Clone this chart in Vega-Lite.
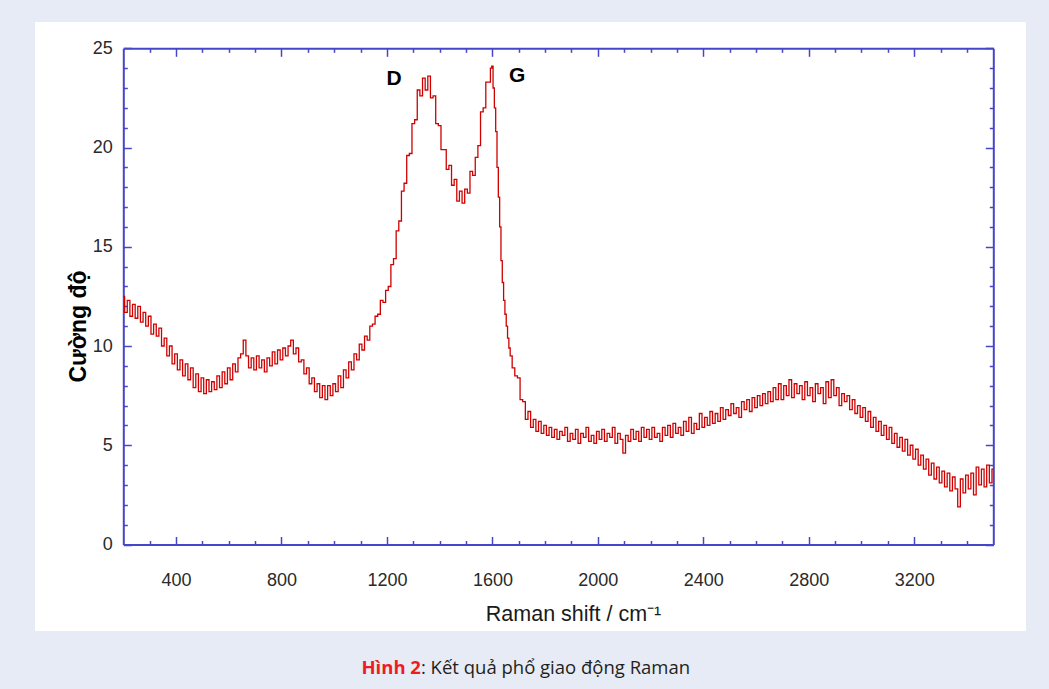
{
  "$schema": "https://vega.github.io/schema/vega-lite/v6.json",
  "width": 991,
  "height": 609,
  "autosize": "none",
  "padding": {"left": 35, "top": 22, "right": 23, "bottom": 58},
  "background": "#e7ebf5",
  "view": {"fill": "#ffffff", "stroke": null},
  "config": {
    "axis": {"grid": false, "labelFont": "Liberation Sans", "titleFont": "Liberation Sans", "domainColor": "#4646c8", "tickColor": "#4646c8", "labelColor": "#2a2a2a", "titleColor": "#1a1a1a", "labelOverlap": false, "labelFlush": false}
  },
  "datasets": {
    "spectrum": [
      {"shift":200,"intensity":12.5},{"shift":210,"intensity":11.7},{"shift":220,"intensity":12.3},{"shift":230,"intensity":11.5},{"shift":240,"intensity":12.1},
      {"shift":250,"intensity":11.4},{"shift":260,"intensity":12.0},{"shift":270,"intensity":11.2},{"shift":280,"intensity":11.7},{"shift":290,"intensity":11.0},
      {"shift":300,"intensity":11.5},{"shift":310,"intensity":10.6},{"shift":320,"intensity":11.1},{"shift":330,"intensity":10.5},{"shift":340,"intensity":10.9},
      {"shift":350,"intensity":10.0},{"shift":360,"intensity":10.4},{"shift":370,"intensity":9.5},{"shift":380,"intensity":10.0},{"shift":390,"intensity":9.1},
      {"shift":400,"intensity":9.6},{"shift":410,"intensity":8.8},{"shift":420,"intensity":9.3},{"shift":430,"intensity":8.5},{"shift":440,"intensity":9.1},
      {"shift":450,"intensity":8.3},{"shift":460,"intensity":8.9},{"shift":470,"intensity":7.9},{"shift":480,"intensity":8.6},{"shift":490,"intensity":7.7},
      {"shift":500,"intensity":8.4},{"shift":510,"intensity":7.6},{"shift":520,"intensity":8.3},{"shift":530,"intensity":7.7},{"shift":540,"intensity":8.2},
      {"shift":550,"intensity":7.8},{"shift":560,"intensity":8.5},{"shift":570,"intensity":7.9},{"shift":580,"intensity":8.7},{"shift":590,"intensity":8.1},
      {"shift":600,"intensity":8.9},{"shift":610,"intensity":8.3},{"shift":620,"intensity":9.1},{"shift":630,"intensity":8.7},{"shift":640,"intensity":9.4},
      {"shift":650,"intensity":9.6},{"shift":660,"intensity":10.3},{"shift":670,"intensity":9.5},{"shift":680,"intensity":8.9},{"shift":690,"intensity":9.4},
      {"shift":700,"intensity":8.8},{"shift":710,"intensity":9.5},{"shift":720,"intensity":8.9},{"shift":730,"intensity":9.3},{"shift":740,"intensity":8.7},
      {"shift":750,"intensity":9.4},{"shift":760,"intensity":9.0},{"shift":770,"intensity":9.7},{"shift":780,"intensity":9.1},{"shift":790,"intensity":9.8},
      {"shift":800,"intensity":9.3},{"shift":810,"intensity":9.9},{"shift":820,"intensity":9.5},{"shift":830,"intensity":10.0},{"shift":840,"intensity":10.3},
      {"shift":850,"intensity":9.6},{"shift":860,"intensity":9.9},{"shift":870,"intensity":9.2},{"shift":880,"intensity":9.3},{"shift":890,"intensity":8.6},
      {"shift":900,"intensity":8.9},{"shift":910,"intensity":8.1},{"shift":920,"intensity":8.4},{"shift":930,"intensity":7.7},{"shift":940,"intensity":8.1},
      {"shift":950,"intensity":7.4},{"shift":960,"intensity":8.0},{"shift":970,"intensity":7.3},{"shift":980,"intensity":8.0},{"shift":990,"intensity":7.5},
      {"shift":1000,"intensity":8.1},{"shift":1010,"intensity":7.7},{"shift":1020,"intensity":8.5},{"shift":1030,"intensity":7.9},{"shift":1040,"intensity":8.8},
      {"shift":1050,"intensity":8.4},{"shift":1060,"intensity":9.2},{"shift":1070,"intensity":8.8},{"shift":1080,"intensity":9.6},{"shift":1090,"intensity":9.3},
      {"shift":1100,"intensity":10.1},{"shift":1110,"intensity":9.8},{"shift":1120,"intensity":10.5},{"shift":1130,"intensity":10.3},{"shift":1140,"intensity":11.0},
      {"shift":1150,"intensity":11.1},{"shift":1160,"intensity":11.5},{"shift":1170,"intensity":11.6},{"shift":1180,"intensity":12.3},{"shift":1190,"intensity":12.2},
      {"shift":1200,"intensity":12.8},{"shift":1210,"intensity":13.0},{"shift":1220,"intensity":14.1},{"shift":1230,"intensity":14.4},{"shift":1240,"intensity":15.8},
      {"shift":1250,"intensity":16.3},{"shift":1260,"intensity":17.8},{"shift":1270,"intensity":18.2},{"shift":1280,"intensity":19.6},{"shift":1290,"intensity":19.7},
      {"shift":1300,"intensity":21.2},{"shift":1310,"intensity":21.4},{"shift":1320,"intensity":22.9},{"shift":1330,"intensity":22.6},{"shift":1340,"intensity":23.5},
      {"shift":1350,"intensity":22.9},{"shift":1360,"intensity":23.6},{"shift":1370,"intensity":22.5},{"shift":1380,"intensity":22.6},{"shift":1390,"intensity":21.2},
      {"shift":1400,"intensity":21.1},{"shift":1410,"intensity":19.9},{"shift":1420,"intensity":19.9},{"shift":1430,"intensity":18.9},{"shift":1440,"intensity":19.1},
      {"shift":1450,"intensity":18.1},{"shift":1460,"intensity":18.4},{"shift":1470,"intensity":17.3},{"shift":1480,"intensity":17.8},{"shift":1490,"intensity":17.2},
      {"shift":1500,"intensity":17.9},{"shift":1510,"intensity":17.7},{"shift":1520,"intensity":18.8},{"shift":1530,"intensity":18.6},{"shift":1540,"intensity":19.5},
      {"shift":1550,"intensity":20.1},{"shift":1560,"intensity":21.8},{"shift":1570,"intensity":22.0},{"shift":1580,"intensity":23.3},{"shift":1590,"intensity":23.3},
      {"shift":1595,"intensity":24.0},{"shift":1600,"intensity":24.1},{"shift":1605,"intensity":23.0},{"shift":1610,"intensity":22.0},{"shift":1615,"intensity":20.8},
      {"shift":1620,"intensity":19.0},{"shift":1625,"intensity":17.5},{"shift":1630,"intensity":16.0},{"shift":1635,"intensity":14.3},{"shift":1640,"intensity":13.2},
      {"shift":1645,"intensity":12.3},{"shift":1650,"intensity":11.6},{"shift":1655,"intensity":11.0},{"shift":1660,"intensity":10.4},{"shift":1665,"intensity":9.9},
      {"shift":1670,"intensity":9.5},{"shift":1680,"intensity":8.9},{"shift":1690,"intensity":8.5},{"shift":1700,"intensity":8.4},{"shift":1710,"intensity":7.3},
      {"shift":1720,"intensity":7.2},{"shift":1730,"intensity":6.3},{"shift":1740,"intensity":6.7},{"shift":1750,"intensity":5.9},{"shift":1760,"intensity":6.3},
      {"shift":1770,"intensity":5.7},{"shift":1780,"intensity":6.2},{"shift":1790,"intensity":5.6},{"shift":1800,"intensity":6.0},{"shift":1810,"intensity":5.5},
      {"shift":1820,"intensity":5.9},{"shift":1830,"intensity":5.4},{"shift":1840,"intensity":5.8},{"shift":1850,"intensity":5.3},{"shift":1860,"intensity":5.7},
      {"shift":1870,"intensity":5.5},{"shift":1880,"intensity":5.9},{"shift":1890,"intensity":5.2},{"shift":1900,"intensity":5.6},{"shift":1910,"intensity":5.3},
      {"shift":1920,"intensity":5.8},{"shift":1930,"intensity":5.1},{"shift":1940,"intensity":5.6},{"shift":1950,"intensity":5.4},{"shift":1960,"intensity":5.9},
      {"shift":1970,"intensity":5.2},{"shift":1980,"intensity":5.5},{"shift":1990,"intensity":5.1},{"shift":2000,"intensity":5.7},{"shift":2010,"intensity":5.3},
      {"shift":2020,"intensity":5.8},{"shift":2030,"intensity":5.2},{"shift":2040,"intensity":5.6},{"shift":2050,"intensity":5.4},{"shift":2060,"intensity":5.9},
      {"shift":2070,"intensity":5.1},{"shift":2080,"intensity":5.6},{"shift":2090,"intensity":5.3},{"shift":2100,"intensity":4.6},{"shift":2110,"intensity":5.5},
      {"shift":2120,"intensity":5.2},{"shift":2130,"intensity":5.8},{"shift":2140,"intensity":5.3},{"shift":2150,"intensity":5.7},{"shift":2160,"intensity":5.2},
      {"shift":2170,"intensity":5.9},{"shift":2180,"intensity":5.4},{"shift":2190,"intensity":5.8},{"shift":2200,"intensity":5.3},{"shift":2210,"intensity":5.9},
      {"shift":2220,"intensity":5.4},{"shift":2230,"intensity":5.6},{"shift":2240,"intensity":5.2},{"shift":2250,"intensity":5.9},{"shift":2260,"intensity":5.5},
      {"shift":2270,"intensity":6.0},{"shift":2280,"intensity":5.4},{"shift":2290,"intensity":6.1},{"shift":2300,"intensity":5.6},{"shift":2310,"intensity":5.9},
      {"shift":2320,"intensity":5.5},{"shift":2330,"intensity":6.2},{"shift":2340,"intensity":5.7},{"shift":2350,"intensity":6.4},{"shift":2360,"intensity":5.6},
      {"shift":2370,"intensity":6.1},{"shift":2380,"intensity":5.8},{"shift":2390,"intensity":6.6},{"shift":2400,"intensity":5.9},{"shift":2410,"intensity":6.4},
      {"shift":2420,"intensity":6.0},{"shift":2430,"intensity":6.7},{"shift":2440,"intensity":6.1},{"shift":2450,"intensity":6.6},{"shift":2460,"intensity":6.2},
      {"shift":2470,"intensity":6.9},{"shift":2480,"intensity":6.3},{"shift":2490,"intensity":6.8},{"shift":2500,"intensity":6.5},{"shift":2510,"intensity":7.1},
      {"shift":2520,"intensity":6.6},{"shift":2530,"intensity":6.9},{"shift":2540,"intensity":6.4},{"shift":2550,"intensity":7.2},{"shift":2560,"intensity":6.8},
      {"shift":2570,"intensity":7.3},{"shift":2580,"intensity":6.7},{"shift":2590,"intensity":7.4},{"shift":2600,"intensity":6.9},{"shift":2610,"intensity":7.5},
      {"shift":2620,"intensity":7.0},{"shift":2630,"intensity":7.6},{"shift":2640,"intensity":7.1},{"shift":2650,"intensity":7.7},{"shift":2660,"intensity":7.2},
      {"shift":2670,"intensity":7.9},{"shift":2680,"intensity":7.3},{"shift":2690,"intensity":8.1},{"shift":2700,"intensity":7.3},{"shift":2710,"intensity":8.0},
      {"shift":2720,"intensity":7.5},{"shift":2730,"intensity":8.3},{"shift":2740,"intensity":7.4},{"shift":2750,"intensity":8.1},{"shift":2760,"intensity":7.6},
      {"shift":2770,"intensity":8.0},{"shift":2780,"intensity":7.3},{"shift":2790,"intensity":8.2},{"shift":2800,"intensity":7.5},{"shift":2810,"intensity":7.9},
      {"shift":2820,"intensity":7.2},{"shift":2830,"intensity":8.1},{"shift":2840,"intensity":7.6},{"shift":2850,"intensity":7.9},{"shift":2860,"intensity":7.1},
      {"shift":2870,"intensity":8.2},{"shift":2880,"intensity":7.4},{"shift":2890,"intensity":8.3},{"shift":2900,"intensity":7.5},{"shift":2910,"intensity":7.9},
      {"shift":2920,"intensity":7.0},{"shift":2930,"intensity":7.6},{"shift":2940,"intensity":7.2},{"shift":2950,"intensity":7.5},{"shift":2960,"intensity":6.8},
      {"shift":2970,"intensity":7.3},{"shift":2980,"intensity":6.6},{"shift":2990,"intensity":7.0},{"shift":3000,"intensity":6.4},{"shift":3010,"intensity":6.9},
      {"shift":3020,"intensity":6.2},{"shift":3030,"intensity":6.7},{"shift":3040,"intensity":5.9},{"shift":3050,"intensity":6.4},{"shift":3060,"intensity":5.7},
      {"shift":3070,"intensity":6.2},{"shift":3080,"intensity":5.5},{"shift":3090,"intensity":6.0},{"shift":3100,"intensity":5.3},{"shift":3110,"intensity":5.9},
      {"shift":3120,"intensity":5.1},{"shift":3130,"intensity":5.6},{"shift":3140,"intensity":4.9},{"shift":3150,"intensity":5.4},{"shift":3160,"intensity":4.7},
      {"shift":3170,"intensity":5.3},{"shift":3180,"intensity":4.5},{"shift":3190,"intensity":5.0},{"shift":3200,"intensity":4.3},{"shift":3210,"intensity":4.8},
      {"shift":3220,"intensity":4.0},{"shift":3230,"intensity":4.5},{"shift":3240,"intensity":3.8},{"shift":3250,"intensity":4.3},{"shift":3260,"intensity":3.5},
      {"shift":3270,"intensity":4.1},{"shift":3280,"intensity":3.3},{"shift":3290,"intensity":3.9},{"shift":3300,"intensity":3.1},{"shift":3310,"intensity":3.7},
      {"shift":3320,"intensity":2.9},{"shift":3330,"intensity":3.6},{"shift":3340,"intensity":2.7},{"shift":3350,"intensity":3.4},{"shift":3360,"intensity":2.8},
      {"shift":3370,"intensity":1.9},{"shift":3380,"intensity":3.3},{"shift":3390,"intensity":2.6},{"shift":3400,"intensity":3.5},{"shift":3410,"intensity":2.8},
      {"shift":3420,"intensity":3.6},{"shift":3430,"intensity":2.5},{"shift":3440,"intensity":3.9},{"shift":3450,"intensity":3.0},{"shift":3460,"intensity":3.8},
      {"shift":3470,"intensity":2.9},{"shift":3480,"intensity":4.0},{"shift":3490,"intensity":3.1},{"shift":3500,"intensity":3.8}
    ],
    "peaks": [
      {"label": "D", "shift": 1227, "intensity": 23.15},
      {"label": "G", "shift": 1694, "intensity": 23.3}
    ],
    "caption1": [{"label": "Hình 2", "shift": 1329, "intensity": -6.52}],
    "caption2": [{"label": ": Kết quả phổ giao động Raman", "shift": 1329, "intensity": -6.52}]
  },
  "resolve": {"scale": {"x": "shared", "y": "shared"}, "axis": {"x": "independent", "y": "independent"}},
  "layer": [
    {
      "data": {"name": "spectrum"},
      "mark": {"type": "line", "color": "#cf0000", "strokeWidth": 1.3, "interpolate": "step"},
      "encoding": {
        "x": {"field": "shift", "type": "quantitative",
          "scale": {"domain": [200, 3500], "range": [88.3, 958.3], "nice": false, "zero": false},
          "axis": {"orient": "bottom", "offset": -86.5, "values": [400, 800, 1200, 1600, 2000, 2400, 2800, 3200], "format": "d",
            "tickSize": -8, "tickWidth": 1.5, "domainWidth": 2, "labelPadding": 35, "labelBaseline": "top", "labelFontSize": 18,
            "title": "Raman shift / cm⁻¹", "titleFontSize": 21.5, "titleFontWeight": "normal", "titleX": 538, "titleY": 75.5, "titleAlign": "center", "titleBaseline": "alphabetic"}},
        "y": {"field": "intensity", "type": "quantitative",
          "scale": {"domain": [0, 25], "range": [522.5, 26.3], "nice": false, "zero": false},
          "axis": {"orient": "left", "offset": -88.3, "values": [0, 5, 10, 15, 20, 25], "format": "d",
            "tickSize": -8, "tickWidth": 1.5, "domainWidth": 2, "labelPadding": 19, "labelFontSize": 18, "labelAlign": "right", "labelBaseline": "middle",
            "title": "Cường độ", "titleFontSize": 23, "titleFontWeight": "bold", "titleColor": "#000000", "titleAngle": 270, "titleX": -37.8, "titleY": 304, "titleAlign": "center", "titleBaseline": "alphabetic"}}
      }
    },
    {
      "data": {"name": "peaks"},
      "mark": {"type": "text", "font": "Liberation Sans", "fontSize": 21, "fontWeight": "bold", "color": "#000000", "align": "center", "baseline": "alphabetic"},
      "encoding": {
        "x": {"field": "shift", "type": "quantitative",
          "scale": {"domain": [200, 3500], "range": [88.3, 958.3], "nice": false, "zero": false},
          "axis": {"orient": "bottom", "offset": -86.5, "values": [300, 500, 600, 700, 900, 1000, 1100, 1300, 1400, 1500, 1700, 1800, 1900, 2100, 2200, 2300, 2500, 2600, 2700, 2900, 3000, 3100, 3300, 3400],
            "tickSize": -4, "tickWidth": 1.5, "domain": false, "labels": false, "title": null}},
        "y": {"field": "intensity", "type": "quantitative",
          "scale": {"domain": [0, 25], "range": [522.5, 26.3], "nice": false, "zero": false},
          "axis": {"orient": "left", "offset": -88.3, "values": [1, 2, 3, 4, 6, 7, 8, 9, 11, 12, 13, 14, 16, 17, 18, 19, 21, 22, 23, 24],
            "tickSize": -4, "tickWidth": 1.5, "domain": false, "labels": false, "title": null}},
        "text": {"field": "label", "type": "nominal"}
      }
    },
    {
      "data": {"name": "caption1"},
      "mark": {"type": "text", "font": "Open Sans", "fontSize": 18.5, "fontWeight": "bold", "color": "#ed1c24", "align": "right", "baseline": "alphabetic"},
      "encoding": {
        "x": {"field": "shift", "type": "quantitative",
          "scale": {"domain": [200, 3500], "range": [88.3, 958.3], "nice": false, "zero": false},
          "axis": {"orient": "top", "offset": -26.3, "values": [400, 800, 1200, 1600, 2000, 2400, 2800, 3200],
            "tickSize": -8, "tickWidth": 1.5, "domainWidth": 2, "labels": false, "title": null}},
        "y": {"field": "intensity", "type": "quantitative",
          "scale": {"domain": [0, 25], "range": [522.5, 26.3], "nice": false, "zero": false},
          "axis": {"orient": "right", "offset": -32.7, "values": [0, 5, 10, 15, 20, 25],
            "tickSize": -8, "tickWidth": 1.5, "domainWidth": 2, "labels": false, "title": null}},
        "text": {"field": "label", "type": "nominal"}
      }
    },
    {
      "data": {"name": "caption2"},
      "mark": {"type": "text", "font": "Open Sans", "fontSize": 18.5, "fontWeight": "normal", "color": "#231f20", "align": "left", "baseline": "alphabetic"},
      "encoding": {
        "x": {"field": "shift", "type": "quantitative",
          "scale": {"domain": [200, 3500], "range": [88.3, 958.3], "nice": false, "zero": false},
          "axis": {"orient": "top", "offset": -26.3, "values": [300, 500, 600, 700, 900, 1000, 1100, 1300, 1400, 1500, 1700, 1800, 1900, 2100, 2200, 2300, 2500, 2600, 2700, 2900, 3000, 3100, 3300, 3400],
            "tickSize": -4, "tickWidth": 1.5, "domain": false, "labels": false, "title": null}},
        "y": {"field": "intensity", "type": "quantitative",
          "scale": {"domain": [0, 25], "range": [522.5, 26.3], "nice": false, "zero": false},
          "axis": {"orient": "right", "offset": -32.7, "values": [1, 2, 3, 4, 6, 7, 8, 9, 11, 12, 13, 14, 16, 17, 18, 19, 21, 22, 23, 24],
            "tickSize": -4, "tickWidth": 1.5, "domain": false, "labels": false, "title": null}},
        "text": {"field": "label", "type": "nominal"}
      }
    }
  ]
}
